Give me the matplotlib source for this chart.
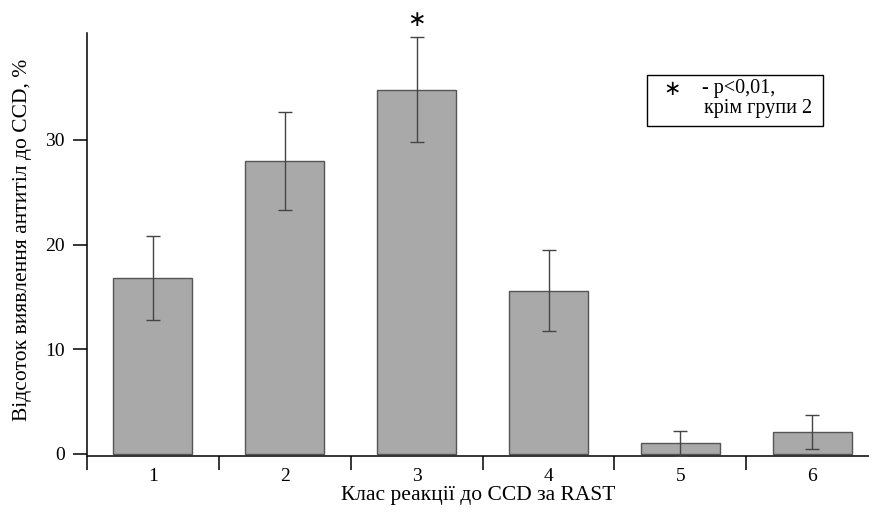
import matplotlib.pyplot as plt
from matplotlib.patches import Rectangle

plt.rcParams['font.family'] = ['Liberation Serif', 'DejaVu Sans']

# data
groups = ['1', '2', '3', '4', '5', '6']
values = [16.8, 28.0, 34.8, 15.6, 1.0, 2.1]
errors = [4.0, 4.7, 5.0, 3.9, 1.2, 1.6]
star_group = 3
star_y = 41.4

x_label = 'Клас реакції до CCD за RAST'
y_label = 'Відсоток виявлення антитіл до CCD, %'
note_lines = ['- p<0,01,', 'крім групи 2']

W, H = 869, 513
fig = plt.figure(figsize=(W / 100, H / 100), dpi=100)
ax = fig.add_axes([87 / W, (H - 455.5) / H, 1 - 87 / W, (455.5 - 33) / H])

pos = list(range(1, len(groups) + 1))
ax.bar(pos, values, width=0.6, color='#a9a9a9', edgecolor='#555555', linewidth=1.0, zorder=2)
ax.errorbar(pos, values, yerr=errors, fmt='none', ecolor='#444444',
            elinewidth=1.0, capsize=4.7, capthick=1.0, zorder=3)

ax.text(star_group, star_y, '∗', ha='center', va='center', fontsize=16,
        family=['DejaVu Sans'], clip_on=False)

ax.set_xlim(0.5, 6.43)
ax.set_ylim(-0.15, 40.2)

ax.set_xticks(pos)
ax.set_xticklabels(groups)
ax.set_xticks([p - 0.5 for p in pos], minor=True)
ax.tick_params(axis='x', which='major', length=0, pad=9, labelsize=14)
ax.tick_params(axis='x', which='minor', length=10, width=1.1, direction='out')
ax.set_yticks([0, 10, 20, 30])
ax.tick_params(axis='y', length=10, width=1.1, direction='out', labelsize=14, pad=6)

for s in ['top', 'right']:
    ax.spines[s].set_visible(False)
for s in ['left', 'bottom']:
    ax.spines[s].set_linewidth(1.1)

ax.set_xlabel(x_label, fontsize=15.5, labelpad=1)
ax.set_ylabel(y_label, fontsize=15.5)
ax.yaxis.set_label_coords(-0.07, 0.51)

# note box
fig.patches.append(Rectangle((647 / W, (H - 126) / H), 176 / W, 51 / H,
                             transform=fig.transFigure, fill=False,
                             edgecolor='black', linewidth=1.0))
fig.text(672 / W, (H - 89) / H, '∗', ha='center', va='center', fontsize=15,
         family=['DejaVu Sans'])
fig.text(702 / W, (H - 89) / H, note_lines[0], ha='left', va='center', fontsize=14.5)
fig.text(704 / W, (H - 109) / H, note_lines[1], ha='left', va='center', fontsize=14.5)

fig.savefig('out.png', dpi=100)
